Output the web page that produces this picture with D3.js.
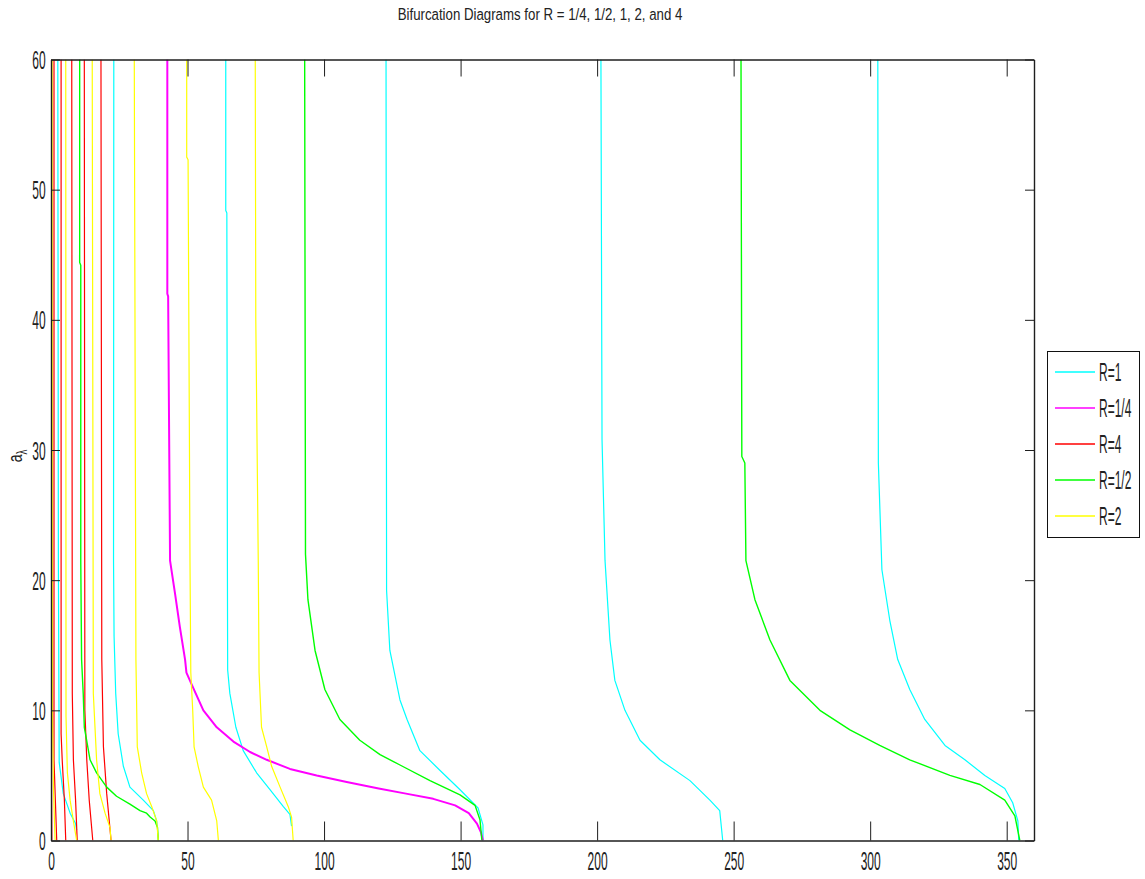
<!DOCTYPE html>
<html>
<head>
<meta charset="utf-8">
<script src="https://cdn.jsdelivr.net/npm/d3@7"></script>
<style>
  body { margin: 0; background: #ffffff; }
  svg { display: block; }
</style>
</head>
<body>
<svg id="chart" width="1145" height="879"></svg>
<script>
// Branch data: each branch is a list of [lambda, a_lambda] points, top to bottom.
const seriesNames = ["R=1", "R=1/4", "R=4", "R=1/2", "R=2"];
const seriesColors = ["#00ffff", "#ff00ff", "#ff0000", "#00ff00", "#ffff00"];
const xTicks = [0, 50, 100, 150, 200, 250, 300, 350];
const yTicks = [0, 10, 20, 30, 40, 50, 60];
const titleText = "Bifurcation Diagrams for R = 1/4, 1/2, 1, 2, and 4";

// R = 1
const branchesR1 = [
  [[2.5,60],[2.7,21.5],[3.0,6],[4.5,3.6],[7.0,2.1],[9.0,1.3],[9.4,0.8]],
  [[23.0,60],[22.9,21.5],[23.1,15.7],[23.7,11.3],[24.6,8.2],[26.5,5.7],[28.9,4.1],[33.8,3.1],[37.5,2.3],[38.7,1.5],[39.0,1.0]],
  [[64.0,60],[64.0,48.4],[64.4,48.2],[64.6,21.5],[64.7,13.1],[65.5,11.3],[67.7,8.7],[70.4,6.9],[75.3,5.2],[80.2,3.9],[85.1,2.6],[87.5,2.0],[88.1,1.1]],
  [[122.7,60],[122.9,19.2],[124.1,14.6],[127.8,10.8],[130.4,9.3],[135.1,6.9],[142.4,5.4],[149.8,3.9],[156.4,2.5],[158.2,1.2],[158.2,0]],
  [[201.4,60],[201.8,30.8],[202.9,21.5],[204.7,15.4],[206.5,12.3],[210.2,10.0],[215.7,7.7],[223.0,6.2],[234.0,4.6],[241.3,3.1],[244.9,2.3],[246.0,0]],
  [[302.8,60],[303.0,29],[304.3,20.8],[307.2,16.9],[310.1,13.9],[314.5,11.6],[320.0,9.3],[327.4,7.3],[334.7,6.2],[342.0,5.0],[349.3,4.0],[352.2,2.9],[354.1,1.5],[354.4,0]]
];

// R = 1/4
const branchesR14 = [
  [[42.6,60],[42.6,42],[42.9,41.8],[43.6,21.5],[45.4,19.0],[47.2,16.4],[49.1,13.9],[49.6,12.9],[51.5,12.0],[55.8,10.0],[60.7,8.7],[66.8,7.6],[72.9,6.8],[79.0,6.2],[87.5,5.5],[97.3,5.0],[108.3,4.5],[120,4.0],[130,3.6],[140,3.2],[148,2.7],[153,2.1],[156,1.3],[157.5,0.6],[158.2,0]]
];

// R = 4
const branchesR4 = [
  [[0.2,60],[0.2,3.8],[0.3,0]],
  [[1.1,60],[1.1,6.2],[1.6,3.1],[2.1,0]],
  [[3.7,60],[3.7,8.2],[4.1,6.2],[4.9,3.1],[5.4,0]],
  [[7.6,60],[7.8,11.3],[8.2,6.2],[9.0,3.1],[9.6,0]],
  [[12.2,60],[12.4,10.0],[13.1,6.2],[14.0,3.1],[15.3,0]],
  [[18.3,60],[18.6,13.9],[19.2,7.2],[20.4,3.6],[22.0,0]]
];

// R = 1/2
const branchesR12 = [
  [[10.5,60],[10.5,44.4],[10.9,44.2],[10.9,21.5],[11.2,13.9],[11.8,11.3],[12.2,8.7],[12.8,8.0],[14.3,6.2],[16.7,5.2],[20.4,4.1],[24.0,3.4],[28.9,2.8],[32.6,2.3],[35.0,2.1],[36.3,1.8],[38.1,1.5],[39.0,1.0],[39.3,0]],
  [[92.9,60],[93.2,22],[94.1,18.5],[96.7,14.6],[100.3,11.6],[105.8,9.3],[113.1,7.7],[120.5,6.6],[127.8,5.8],[138.8,4.6],[149.8,3.5],[155.3,2.7],[157.1,1.6],[157.8,0]],
  [[252.7,60],[253.0,29.5],[254.1,29.0],[254.5,21.5],[257.8,18.5],[263.3,15.4],[270.6,12.3],[281.6,10.0],[292.6,8.5],[303.5,7.3],[314.5,6.2],[329.2,5.0],[340.2,4.3],[349.3,3.1],[353.0,1.9],[354.8,0]]
];

// R = 2
const branchesR2 = [
  [[0.4,60],[0.5,10],[0.9,4],[1.3,1.3],[1.5,0]],
  [[5.4,60],[5.5,9.5],[6.0,5.2],[7.0,3.1],[8.2,1.5],[9.4,0]],
  [[15.1,60],[15.5,11.3],[16.7,6.2],[17.9,3.6],[19.8,2.1],[21.6,1.0],[22.0,0]],
  [[30.5,60],[31.1,13.9],[31.6,7.2],[33.2,5.2],[35.0,3.6],[36.9,2.6],[38.7,1.5],[39.3,0]],
  [[49.7,60],[49.7,52.5],[50.2,52.3],[50.9,21.5],[51.2,12.9],[51.9,10.0],[52.4,7.2],[53.9,5.7],[55.8,4.1],[58.8,3.1],[60.7,1.5],[61.3,0]],
  [[74.8,60],[75.0,40],[75.9,21.5],[76.2,12.9],[77.1,8.7],[79.0,7.2],[80.8,5.7],[83.9,4.1],[86.9,2.6],[88.1,1.8],[88.7,0]]
];

const seriesBranches = [branchesR1, branchesR14, branchesR4, branchesR12, branchesR2];
const seriesWidths = [1.2, 2, 1.2, 1.4, 1.2];

// Layout
const plot = { left: 51, right: 1034, top: 59.5, bottom: 840.5 };
const FONT = "'Liberation Sans', Arial, sans-serif";
const NARROW = 0.48;

const svg = d3.select("#chart");
svg.append("rect").attr("width", 1145).attr("height", 879).attr("fill", "#ffffff");

const x = d3.scaleLinear().domain([0, 360]).range([plot.left, plot.right]);
const y = d3.scaleLinear().domain([0, 60]).range([plot.bottom, plot.top]);

svg.append("clipPath").attr("id", "plot-clip")
  .append("rect")
  .attr("x", plot.left).attr("y", plot.top)
  .attr("width", plot.right - plot.left).attr("height", plot.bottom - plot.top);

const line = d3.line().x(d => x(d[0])).y(d => y(d[1]));

const curves = svg.append("g").attr("clip-path", "url(#plot-clip)");
seriesBranches.forEach((branches, i) => {
  curves.append("g")
    .selectAll("path")
    .data(branches)
    .join("path")
    .attr("d", line)
    .attr("fill", "none")
    .attr("stroke", seriesColors[i])
    .attr("stroke-width", seriesWidths[i])
    .attr("stroke-linejoin", "round");
});

// Axes box with inward ticks
const axisColor = "#1e1e1e";
function styleAxis(g) {
  g.attr("color", axisColor).attr("font-family", FONT).attr("font-size", 25);
  g.select(".domain").attr("stroke-width", 1.4);
  g.selectAll(".tick line").attr("stroke-width", 1);
}

const gBottom = svg.append("g")
  .attr("transform", `translate(0,${plot.bottom})`)
  .call(d3.axisBottom(x).tickValues(xTicks).tickSizeInner(-19).tickSizeOuter(0).tickPadding(0))
  .call(styleAxis);
gBottom.selectAll(".tick text")
  .attr("y", null).attr("dy", null)
  .attr("text-anchor", "middle")
  .attr("fill", "#222")
  .attr("transform", `translate(0,29.5) scale(${NARROW},1)`);

const gTop = svg.append("g")
  .attr("transform", `translate(0,${plot.top})`)
  .call(d3.axisTop(x).tickValues(xTicks).tickSizeInner(-17).tickSizeOuter(0).tickFormat(""))
  .call(styleAxis);

const gLeft = svg.append("g")
  .attr("transform", `translate(${plot.left},0)`)
  .call(d3.axisLeft(y).tickValues(yTicks).tickSizeInner(-9).tickSizeOuter(0).tickPadding(0))
  .call(styleAxis);
gLeft.selectAll(".tick text")
  .attr("x", null).attr("dy", null)
  .attr("text-anchor", "end")
  .attr("fill", "#222")
  .attr("transform", `translate(-5.3,9) scale(${NARROW},1)`);

const gRight = svg.append("g")
  .attr("transform", `translate(${plot.right},0)`)
  .call(d3.axisRight(y).tickValues(yTicks).tickSizeInner(-9).tickSizeOuter(0).tickFormat(""))
  .call(styleAxis);

// Title
svg.append("text")
  .attr("transform", `translate(540,20) scale(0.78,1)`)
  .attr("text-anchor", "middle")
  .attr("font-family", FONT)
  .attr("font-size", 17)
  .attr("fill", "#222")
  .text(titleText);

// Y axis label: a subscript lambda
const yl = svg.append("text")
  .attr("transform", `translate(22,456) rotate(-90) scale(0.7,1)`)
  .attr("text-anchor", "middle")
  .attr("font-family", FONT)
  .attr("font-size", 20)
  .attr("fill", "#222");
yl.append("tspan").text("a");
yl.append("tspan").attr("dy", 5).attr("font-size", 14).text("λ");

// Legend
const legend = { x: 1047, y: 351, w: 92, rowH: 36, firstRow: 372 };
const lg = svg.append("g");
lg.append("rect")
  .attr("x", legend.x + 0.5).attr("y", legend.y + 0.5)
  .attr("width", legend.w).attr("height", legend.firstRow - legend.y + legend.rowH * (seriesNames.length - 1) + 21)
  .attr("fill", "#ffffff").attr("stroke", "#111").attr("stroke-width", 1);
seriesNames.forEach((name, i) => {
  const ry = legend.firstRow + i * legend.rowH;
  lg.append("line")
    .attr("x1", 1055).attr("x2", 1095).attr("y1", ry).attr("y2", ry)
    .attr("stroke", seriesColors[i]).attr("stroke-width", 1.5);
  lg.append("text")
    .attr("transform", `translate(1099,${ry + 9}) scale(${NARROW},1)`)
    .attr("font-family", FONT).attr("font-size", 25).attr("fill", "#222")
    .text(name);
});
</script>
</body>
</html>
